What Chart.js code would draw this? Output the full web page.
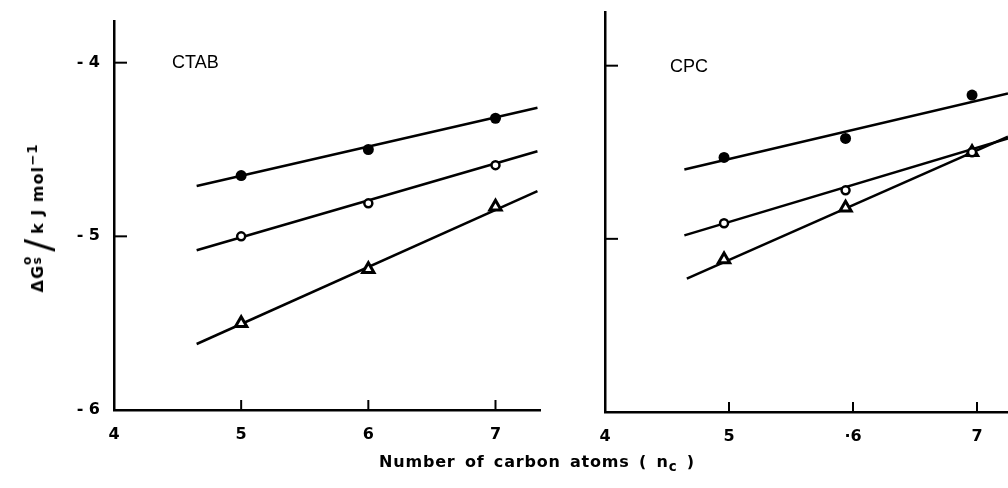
<!DOCTYPE html>
<html>
<head>
<meta charset="utf-8">
<script src="https://cdn.jsdelivr.net/npm/chart.js@4.4.0/dist/chart.umd.min.js"></script>
<style>
  body { margin: 0; background: #fff; width: 1008px; height: 488px; overflow: hidden; position: relative; }
  #ctabWrap { position: absolute; left: 0; top: 0; width: 560px; height: 488px; }
  #cpcWrap { position: absolute; left: 560px; top: 0; width: 448px; height: 488px; }
  .panelName { position: absolute; font-family: "Liberation Sans", Arial, sans-serif; font-size: 18px; color: #000; }
  .yTitle {
    position: absolute; left: 38px; top: 218px; white-space: nowrap;
    transform: translate(-50%, -50%) rotate(-90deg);
    font-family: "DejaVu Sans", sans-serif; font-weight: bold; font-size: 16px; letter-spacing: 1px; color: #000;
  }
  .yTitle .slash { font-weight: normal; font-size: 38px; vertical-align: -8px; margin: 0 4px; }
  .yTitle .deg { display: inline-block; vertical-align: 2px; line-height: 0.8; font-size: 12px; text-align: center; }
  .xTitle {
    position: absolute; left: 537px; top: 463px; white-space: nowrap; transform: translate(-50%, -50%);
    font-family: "DejaVu Sans", sans-serif; font-weight: bold; font-size: 16px; letter-spacing: 0.8px; word-spacing: 3px; color: #000;
  }
</style>
</head>
<body>
<div id="ctabWrap"><canvas id="ctabChart" width="560" height="488"></canvas></div>
<div id="cpcWrap"><canvas id="cpcChart" width="448" height="488"></canvas></div>
<div class="panelName" style="left:172px; top:52px;">CTAB</div>
<div class="panelName" style="left:670px; top:56px;">CPC</div>
<div class="yTitle">ΔG<span class="deg">o<br>s</span><span class="slash">/</span>k J mol<sup>−1</sup></div>
<div class="xTitle">Number of carbon atoms ( n<sub>c</sub> )</div>
<script>
// tick values
const xTickValues = [4, 5, 6, 7];
const yTickValues = [-6, -5, -4];
const innerXTicks = [5, 6, 7];
const innerYTicks = [-4, -5];

// CTAB panel
const ctabX = [5, 6, 7];
const ctabFilled = [-4.65, -4.50, -4.32];
const ctabOpen = [-5.00, -4.81, -4.59];
const ctabTriangle = [-5.50, -5.19, -4.83];
const ctabFitX = [4.65, 7.33];
const ctabFilledFit = [-4.71, -4.26];
const ctabOpenFit = [-5.08, -4.51];
const ctabTriangleFit = [-5.62, -4.74];

// CPC panel
const cpcX = [4.96, 5.94, 6.96];
const cpcFilled = [-4.53, -4.42, -4.17];
const cpcOpen = [-4.91, -4.72, -4.50];
const cpcTriangle = [-5.12, -4.82, -4.50];
const cpcFitX = [4.64, 7.25];
const cpcTriangleFitX = [4.66, 7.25];
const cpcFilledFit = [-4.60, -4.16];
const cpcOpenFit = [-4.98, -4.42];
const cpcTriangleFit = [-5.23, -4.41];

function pts(xs, ys) {
    return xs.map((x, i) => ({ x: x, y: ys[i] }));
}

function pointSet(xs, ys, style) {
    const base = { data: pts(xs, ys), showLine: false, order: 0, borderColor: '#000' };
    if (style === 'filled') {
        return Object.assign(base, { pointStyle: 'circle', pointRadius: 5.5, backgroundColor: '#000', borderWidth: 0 });
    }
    if (style === 'open') {
        return Object.assign(base, { pointStyle: 'circle', pointRadius: 4, backgroundColor: '#fff', borderWidth: 2.5 });
    }
    return Object.assign(base, { pointStyle: 'triangle', pointRadius: 6.5, backgroundColor: '#fff', borderWidth: 3 });
}

function fitLine(xs, ys) {
    return { data: pts(xs, ys), showLine: true, pointRadius: 0, borderColor: '#000', borderWidth: 2.5, order: 1 };
}

// inner tick marks drawn with the chart scales
const innerTicks = {
    id: 'innerTicks',
    afterDraw(chart) {
        const ctx = chart.ctx;
        const area = chart.chartArea;
        ctx.save();
        ctx.strokeStyle = '#000';
        ctx.lineWidth = 2;
        innerXTicks.forEach(v => {
            const px = chart.scales.x.getPixelForValue(v);
            ctx.beginPath();
            ctx.moveTo(px, area.bottom);
            ctx.lineTo(px, area.bottom - 10);
            ctx.stroke();
        });
        innerYTicks.forEach(v => {
            const py = chart.scales.y.getPixelForValue(v);
            ctx.beginPath();
            ctx.moveTo(area.left, py);
            ctx.lineTo(area.left + 13, py);
            ctx.stroke();
        });
        ctx.restore();
    }
};

const tickFont = { family: 'DejaVu Sans', size: 16, weight: 'bold' };

function makeScales(cfg) {
    return {
        x: {
            type: 'linear',
            min: 4,
            max: cfg.xMax,
            afterBuildTicks: s => { s.ticks = xTickValues.map(v => ({ value: v })); },
            afterFit: s => {
                s.height = cfg.xHeight;
                s.paddingLeft = 0;
                s.paddingRight = 0;
            },
            grid: { display: false, drawTicks: false, tickLength: 0 },
            border: { display: true, color: '#000', width: 2.5 },
            ticks: {
                color: '#000', font: tickFont, padding: 15, maxRotation: 0,
                callback: v => cfg.xLabels[xTickValues.indexOf(v)]
            }
        },
        y: {
            type: 'linear',
            min: -6,
            max: cfg.yMax,
            afterBuildTicks: s => { s.ticks = yTickValues.map(v => ({ value: v })); },
            afterFit: s => {
                s.width = cfg.yWidth;
                s.paddingTop = 0;
                s.paddingBottom = 0;
            },
            grid: { display: false, drawTicks: false, tickLength: 0 },
            border: { display: true, color: '#000', width: 2.5 },
            ticks: {
                display: cfg.yLabels, color: '#000', font: tickFont, padding: 14,
                callback: v => '- ' + Math.abs(v)
            }
        }
    };
}

new Chart(document.getElementById('ctabChart'), {
    type: 'scatter',
    data: {
        datasets: [
            pointSet(ctabX, ctabFilled, 'filled'),
            pointSet(ctabX, ctabOpen, 'open'),
            pointSet(ctabX, ctabTriangle, 'triangle'),
            fitLine(ctabFitX, ctabFilledFit),
            fitLine(ctabFitX, ctabOpenFit),
            fitLine(ctabFitX, ctabTriangleFit)
        ]
    },
    options: {
        responsive: false,
        animation: false,
        layout: { autoPadding: false, padding: { top: 21, right: 20, left: 0, bottom: 0 } },
        plugins: { legend: { display: false }, tooltip: { enabled: false } },
        scales: makeScales({ xMax: 7.35, yMax: -3.76, xHeight: 78, yWidth: 114, yLabels: true, xLabels: ['4', '5', '6', '7'] })
    },
    plugins: [innerTicks]
});

new Chart(document.getElementById('cpcChart'), {
    type: 'scatter',
    data: {
        datasets: [
            pointSet(cpcX, cpcFilled, 'filled'),
            pointSet(cpcX, cpcOpen, 'open'),
            pointSet(cpcX, cpcTriangle, 'triangle'),
            fitLine(cpcFitX, cpcFilledFit),
            fitLine(cpcFitX, cpcOpenFit),
            fitLine(cpcTriangleFitX, cpcTriangleFit)
        ]
    },
    options: {
        responsive: false,
        animation: false,
        layout: { autoPadding: false, padding: { top: 12, right: 0, left: 0, bottom: 0 } },
        plugins: { legend: { display: false }, tooltip: { enabled: false } },
        scales: makeScales({ xMax: 7.25, yMax: -3.69, xHeight: 76, yWidth: 45, yLabels: false, xLabels: ['4', '5', '·6', '7'] })
    },
    plugins: [innerTicks]
});
</script>
</body>
</html>
